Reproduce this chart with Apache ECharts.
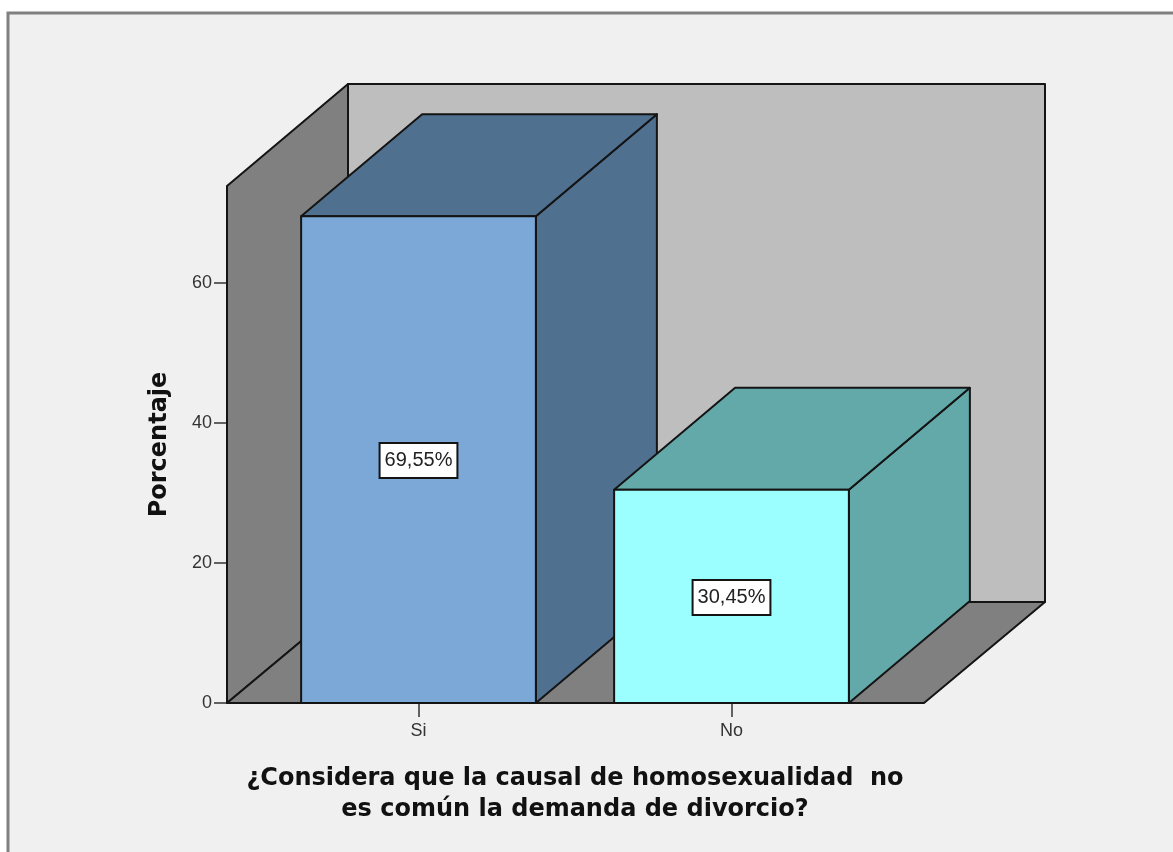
<!DOCTYPE html>
<html>
<head>
<meta charset="utf-8">
<style>html,body{margin:0;padding:0;background:#fff}#c{width:1173px;height:852px}</style>
<script src="https://cdn.jsdelivr.net/npm/echarts@6/dist/echarts.min.js"></script>
</head>
<body>
<div id="c"></div>
<script>
const categories = ['Si', 'No'];
const values = [69.55, 30.45];
const yTicks = [0, 20, 40, 60];
const frontColors = ['#7ba8d6', '#9bffff'];
const shadeColors = ['#50708f', '#63a9a9'];
const yAxisName = 'Porcentaje';
const xAxisName = '¿Considera que la causal de homosexualidad  no\nes común la demanda de divorcio?';

const DX = 121, DY = 102, PAD_L = 35, PAD_R = 36;
const INK = '#141414';
const lineStyle = fill => ({ fill, stroke: INK, lineWidth: 2, lineJoin: 'round' });
const poly = (points, fill) => ({ type: 'polygon', shape: { points }, style: lineStyle(fill) });

function renderWalls(params, api) {
  const c = params.coordSys;
  const l = c.x - PAD_L, r = c.x + c.width + PAD_R, t = c.y, b = c.y + c.height;
  const fb = b - DY + 1;
  return { type: 'group', children: [
    poly([[l + DX, t - DY], [r + DX, t - DY], [r + DX, fb], [l + DX, fb]], '#bebebe'),
    poly([[l, b], [l, t], [l + DX, t - DY], [l + DX, fb]], '#808080'),
    poly([[l, b], [r, b], [r + DX, fb], [l + DX, fb]], '#808080')
  ]};
}

function renderBar(params, api) {
  const i = api.value(0), v = api.value(1);
  const w = api.size([1, 0])[0] * 0.75;
  const top = api.coord([i, v]), base = api.coord([i, 0]), mid = api.coord([i, v / 2]);
  const x0 = top[0] - w / 2, x1 = top[0] + w / 2, yt = top[1], yb = base[1];
  return { type: 'group', children: [
    poly([[x1, yb], [x1, yt], [x1 + DX, yt - DY], [x1 + DX, yb - DY]], shadeColors[i]),
    poly([[x0, yt], [x1, yt], [x1 + DX, yt - DY], [x0 + DX, yt - DY]], shadeColors[i]),
    poly([[x0, yb], [x1, yb], [x1, yt], [x0, yt]], frontColors[i]),
    { type: 'text', z2: 10, style: {
      text: v.toFixed(2).replace('.', ',') + '%',
      x: mid[0], y: mid[1] + 1, align: 'center', verticalAlign: 'middle',
      font: '20px "Liberation Sans"', fill: '#222',
      backgroundColor: '#fff', borderColor: INK, borderWidth: 2,
      padding: [7, 4, 6, 4]
    }}
  ]};
}

const chart = echarts.init(document.getElementById('c'), null, { renderer: 'canvas' });
chart.setOption({
  animation: false,
  backgroundColor: '#fff',
  graphic: [{
    type: 'rect', z: -10, silent: true,
    shape: { x: 8, y: 13, width: 1200, height: 900 },
    style: { fill: '#f0f0f0', stroke: '#808080', lineWidth: 3 }
  }],
  grid: { left: 262, top: 186, width: 626, height: 517 },
  xAxis: {
    type: 'category', data: categories,
    axisLine: { show: false },
    axisTick: { show: true, alignWithLabel: true, length: 14, lineStyle: { color: '#333', width: 1.5 } },
    axisLabel: { color: '#333', fontFamily: 'Liberation Sans', fontSize: 18, margin: 19 },
    name: xAxisName, nameLocation: 'middle', nameGap: 60,
    nameTextStyle: { color: '#111', fontFamily: 'DejaVu Sans', fontWeight: 'bold', fontSize: 24, lineHeight: 31 }
  },
  yAxis: {
    type: 'value', min: 0, max: 73.86, offset: PAD_L,
    axisLine: { show: false }, splitLine: { show: false },
    axisTick: { show: true, length: 13, customValues: yTicks, lineStyle: { color: '#333', width: 1.5 } },
    axisLabel: { color: '#333', fontFamily: 'Liberation Sans', fontSize: 18, margin: 15, customValues: yTicks },
    name: yAxisName, nameLocation: 'middle', nameGap: 55, nameRotate: 90,
    nameTextStyle: { color: '#111', fontFamily: 'DejaVu Sans', fontWeight: 'bold', fontSize: 24 }
  },
  series: [
    { type: 'custom', silent: true, z: 1, renderItem: renderWalls, data: [[0, 0]], encode: { x: 0, y: 1 } },
    { type: 'custom', silent: true, z: 2, renderItem: renderBar, data: values.map((v, i) => [i, v]), encode: { x: 0, y: 1 } }
  ]
});
</script>
</body>
</html>
